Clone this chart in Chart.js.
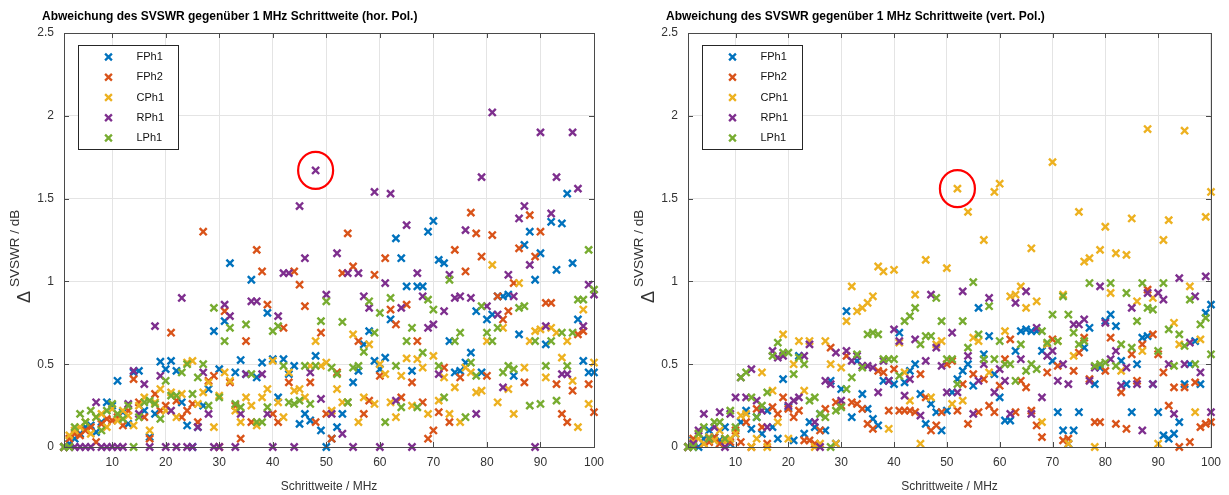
<!DOCTYPE html>
<html>
<head>
<meta charset="utf-8">
<title>SVSWR Abweichung</title>
<script src="https://cdn.jsdelivr.net/npm/chart.js@4.4.1/dist/chart.umd.min.js"></script>
<style>
  html, body { margin: 0; padding: 0; background: #fff; }
  .panel { position: absolute; top: 0; }
  #left { left: 0; }
  #right { left: 614px; }
</style>
</head>
<body>
<div class="panel" id="left"><canvas id="chartH" width="614" height="495"></canvas></div>
<div class="panel" id="right"><canvas id="chartV" width="615" height="495"></canvas></div>
<script>
// step widths 1..100 MHz
const steps = Array.from({ length: 100 }, (_, i) => i + 1);
const seriesNames = ["FPh1", "FPh2", "CPh1", "RPh1", "LPh1"];
const seriesColors = ["#0072BD", "#D95319", "#EDB120", "#7E2F8E", "#77AC30"];
const xTickValues = [10, 20, 30, 40, 50, 60, 70, 80, 90, 100];
const yTickValues = [0, 0.5, 1, 1.5, 2, 2.5];

// horizontal polarisation
const horFPh1 = [0,0.02,0.05,0.08,0.12,0.13,0.09,0.15,0.27,0.25, 0.40,0.21,0.14,0.45,0.46,0.22,0.06,0.20,0.515,0.47, 0.52,0.46,0.27,0.13,0,0.12,0.25,0.35,0.70,0.47, 0.76,1.11,0.45,0.525,0.44,1.01,0.42,0.51,0.81,0.53, 0.30,0.53,0.44,0.49,0.14,0.20,0.16,0.55,0.10,0, 0.05,0.12,0.20,0.27,0.39,0.46,0.62,0.70,0.52,0.47, 0.54,0.77,1.26,1.14,0.97,0.46,0.97,0.97,1.30,1.365, 1.13,1.11,0.64,0.45,0.46,0.51,0.57,0.82,0.45,0.77, 0.80,0.91,0.91,0.92,0.43,0.68,1.22,1.30,1.01,1.17, 0.62,1.36,1.07,1.35,1.53,1.11,0.77,0.52,0.45,0.45];
const horFPh2 = [0,0.05,0.08,0.07,0.10,0.12,0.03,0.14,0.17,0.16, 0.18,0.13,0.22,0.41,0.27,0.18,0.05,0.32,0.22,0.25, 0.69,0.28,0.18,0.22,0.26,0.15,1.30,0.40,0.43,0, 0.82,0.39,0.25,0.05,0.64,0.15,1.19,1.06,0.86,0.20, 0.15,0.72,0.39,1.06,0.98,0.85,0.39,0.15,0.69,0.20, 0.05,0.45,1.05,1.29,1.09,0.64,0.20,0.28,1.04,0.43, 1.14,0.83,0.74,0.30,0.86,0.39,0.64,0.27,0.05,0.10, 0.21,0.48,0.15,1.19,0.42,1.06,1.415,1.29,1.15,0.43, 1.28,0.91,0.77,0.82,0.99,1.20,0.39,1.40,1.15,1.30, 0.87,0.87,0.38,0.20,0.15,0.34,0.68,0.70,0.38,0.21];
const horCPh1 = [0,0.07,0.10,0.12,0.15,0.08,0.18,0.20,0.12,0.23, 0.16,0.22,0.19,0.13,0.25,0.30,0.10,0.27,0.35,0.22, 0.33,0.18,0.32,0.51,0.52,0.26,0.33,0.39,0.12,0.31, 0.45,0.40,0.22,0.15,0.30,0.25,0.13,0.30,0.35,0.52, 0.27,0.18,0.45,0.34,0.35,0.30,0.49,0.64,0.49,0.51, 0.22,0.35,0.27,0.27,0.68,0.15,0.30,0.62,0.26,0.50, 0.44,0.27,0.18,0.43,0.535,0.25,0.53,0.48,0.20,0.55, 0.28,0.42,0.20,0.36,0.15,0.48,0.45,0.33,0.34,0.64, 1.10,0.27,0.72,0.35,0.20,0.99,0.48,0.64,0.70,0.71, 0.42,0.72,0.69,0.54,0.64,0.40,0.12,0.83,0.26,0.51];
const horRPh1 = [0,0,0,0,0,0,0.27,0,0,0, 0,0,0.26,0.46,0.20,0.38,0,0.73,0.43,0, 0.22,0,0.90,0,0,0.12,0.45,0.20,0,0, 0.86,0.79,0,0.20,0.44,0.88,0.88,0.44,0.20,0, 0.79,1.05,1.05,0,1.455,1.14,0.45,1.67,0.29,0.92, 0.20,1.17,0.08,1.05,0,1.05,0.91,0.84,1.54,0, 0.99,1.53,0.28,0.84,1.34,0,1.05,0.91,0.72,0.74, 0.44,0.82,1.04,0.90,0.91,1.31,0.90,0.20,1.63,0.85, 2.02,0.80,0.36,1.04,0.91,1.38,1.455,1.10,0,1.90, 0.73,1.41,1.63,0.44,0.44,1.90,1.56,0.73,0.98,0.92];
const horLPh1 = [0,0,0.12,0.20,0.15,0.22,0.18,0.10,0.22,0.26, 0.20,0.17,0.25,0,0.18,0.27,0.28,0.26,0.17,0.40, 0.31,0.31,0.45,0.50,0.32,0.42,0.50,0.25,0.84,0.30, 0.64,0.72,0.26,0.24,0.74,0.44,0.15,0.15,0.24,0.70, 0.73,0.49,0.27,0.26,0.28,0.49,0.26,0.49,0.76,0.88, 0.48,0.44,0.755,0.27,0.48,0.49,0.575,0.88,0.69,0.81, 0.15,0.90,0.49,0.24,0.64,0.72,0.24,0.57,0.89,0.83, 0.49,0.30,1.01,0.64,0.69,0.18,0.51,0.43,0.85,0.69, 0.64,0.72,0.45,0.49,0.47,0.84,0.85,0.25,0.64,0.26, 0.49,0.64,0.28,0.69,0.49,0.69,0.89,0.89,1.19,0.95];

// vertical polarisation
const vertFPh1 = [0,0.04,0,0.05,0.10,0.06,0.04,0.12,0.02,0.08, 0.15,0.22,0.11,0.18,0.08,0.22,0.12,0.05,0.41,0.24, 0.04,0.55,0.08,0.15,0.12,0.20,0.10,0.40,0.02,0.35, 0.82,0.18,0.52,0.32,0.23,0.17,0.13,0.40,0.40,0.38, 0.69,0.39,0.46,0.50,0.32,0.14,0.26,0.21,0.10,0.22, 0.33,0.41,0.46,0.50,0.37,0.84,0.56,0.67,0.44,0.30, 0.16,0.16,0.58,0.70,0.71,0.70,0.70,0.58,0.62,0.52, 0.21,0.10,0.02,0.10,0.21,0.60,0.72,0.38,0.48,0.76, 0.80,0.73,0.52,0.38,0.21,0.50,0.66,0.67,0.38,0.21, 0.07,0.05,0.08,0.15,0.38,0.50,0.64,0.38,0.81,0.86];
const vertFPh2 = [0,0.05,0.08,0.02,0.03,0.06,0.02,0.05,0.03,0.10, 0.03,0.15,0,0.23,0.12,0.02,0.24,0.20,0.30,0.23, 0.18,0.22,0.04,0.04,0.02,0.10,0.23,0.60,0.27,0.25, 0.55,0.27,0.26,0.23,0.14,0.11,0.46,0.45,0.22,0.47, 0.22,0.22,0.22,0.21,0.44,0.30,0.10,0.13,0.21,0.50, 0.52,0.22,0.38,0.14,0.44,0.21,0.41,0.25,0.21,0.37, 0.53,0.65,0.21,0.40,0.36,0.22,0.13,0.06,0.45,0.65, 0.49,0.04,0.05,0.46,0.57,0.66,0.41,0.15,0.15,0.46, 0.66,0.14,0.33,0.11,0.56,0.40,0.62,0.95,0.68,0.56, 0.45,0.25,0.36,0,0.36,0.03,0.39,0.12,0.14,0.15];
const vertCPh1 = [0,0.03,0.05,0.02,0.06,0.04,0.10,0.03,0.05,0.08, 0.19,0.20,0,0.05,0.45,0,0.34,0.15,0.68,0.05, 0.50,0.64,0.34,0.64,0,0.02,0.64,0.50,0.02,0.48, 0.76,0.97,0.82,0.84,0.87,0.91,1.09,1.06,0.11,1.07, 0.63,0.45,0.28,0.92,0.02,1.13,0.30,0.62,0.64,1.08, 0.26,1.56,0.28,1.42,0.66,0.64,1.25,0.45,1.54,1.59, 0.70,0.91,0.92,0.97,0.84,1.20,0.88,0.15,0.62,1.72, 0.64,0.92,0.02,0.55,1.42,1.12,1.14,0,1.19,1.33, 0.93,1.17,0.46,1.16,1.38,0.88,0.58,1.92,0.90,0.02, 1.25,1.37,0.75,0.62,1.91,0.97,0.21,0.65,1.39,1.54];
const vertRPh1 = [0,0.02,0.10,0.20,0.05,0.12,0.21,0,0.20,0.30, 0.42,0.30,0.47,0.28,0.22,0.12,0.58,0.54,0.55,0.25, 0.28,0.30,0.55,0.62,0.15,0,0.40,0.38,0.57,0.28, 0.58,0.52,0.55,0.49,0.49,0.48,0.33,0.52,0.40,0.71, 0.64,0.31,0.41,0.65,0.19,0.52,0.92,0.60,0.49,0.33, 0.69,0.33,0.94,0.55,0.20,0.40,0.50,0.90,0.33,0.47, 0.40,0.20,0.87,0.53,0.94,0.20,0.72,0.30,0.55,0.58, 0.40,0.50,0.38,0.74,0.74,0.77,0.40,0.48,0.97,0.75, 0.53,0.58,0.37,0.48,0.84,0.38,0.10,0.93,0.38,0.93, 0.89,0.50,0.20,1.02,0.50,0.63,0.91,0.45,1.03,0.21];
const vertLPh1 = [0,0,0.08,0.12,0.05,0.15,0.15,0.05,0.22,0.12, 0.42,0.45,0.30,0.18,0.25,0.33,0.55,0.63,0.57,0.57, 0.44,0.54,0.50,0.28,0.30,0.20,0.18,0,0.22,0.24, 0.35,0.42,0.56,0.48,0.68,0.69,0.68,0.53,0.53,0.53, 0.43,0.76,0.79,0.84,0.62,0.67,0.67,0.90,0.76,0.53, 0.53,0.38,0.76,0.60,0.995,0.68,0.53,0.85,0.53,0.64, 0.50,0.50,0.40,0.62,0.46,0.50,0.47,0.70,0.63,0.80, 0.64,0.91,0.80,0.69,0.62,0.64,0.99,0.49,0.50,0.51, 0.99,0.49,0.62,0.93,0.60,0.76,0.99,0.84,0.83,0.58, 0.99,0.71,0.49,0.68,0.61,0.89,0.50,0.74,0.78,0.56];

// highlighted outliers (red ring)
const markHor = [48, 1.67];
const markVert = [52, 1.56];

const FONT = '"Liberation Sans", Arial, Helvetica, sans-serif';
Chart.defaults.font.family = FONT;
Chart.defaults.font.size = 12;
Chart.defaults.color = "#333";

// draws the MATLAB style frame, legend, titles and the red ring
const matlabLook = {
    id: "matlabLook",
    afterDatasetsDraw(chart, args, opts) {
        const { ctx, chartArea: a, scales: { x, y } } = chart;
        ctx.save();

        // axes box + inward ticks
        ctx.strokeStyle = "#4a4a4a";
        ctx.lineWidth = 1;
        ctx.strokeRect(Math.round(a.left) + 0.5, Math.round(a.top) + 0.5,
            Math.round(a.right - a.left), Math.round(a.bottom - a.top));
        ctx.beginPath();
        xTickValues.forEach(v => {
            const px = Math.round(x.getPixelForValue(v)) + 0.5;
            ctx.moveTo(px, a.bottom); ctx.lineTo(px, a.bottom - 5);
            ctx.moveTo(px, a.top); ctx.lineTo(px, a.top + 5);
        });
        yTickValues.forEach(v => {
            const py = Math.round(y.getPixelForValue(v)) + 0.5;
            ctx.moveTo(a.left, py); ctx.lineTo(a.left + 5, py);
            ctx.moveTo(a.right, py); ctx.lineTo(a.right - 5, py);
        });
        ctx.stroke();

        // legend box
        const bx = Math.round(a.left) + 14.5, by = Math.round(a.top) + 12.5;
        ctx.fillStyle = "#fff";
        ctx.fillRect(bx, by, 100, 104);
        ctx.strokeStyle = "#262626";
        ctx.strokeRect(bx, by, 100, 104);
        ctx.font = "11px " + FONT;
        ctx.textBaseline = "middle";
        ctx.textAlign = "left";
        chart.data.datasets.forEach((ds, i) => {
            const cy = by + 11.5 + i * 20.25;
            const cx = bx + 30;
            ctx.strokeStyle = ds.borderColor;
            ctx.lineWidth = 2.3;
            ctx.beginPath();
            ctx.moveTo(cx - 3.4, cy - 3.4); ctx.lineTo(cx + 3.4, cy + 3.4);
            ctx.moveTo(cx + 3.4, cy - 3.4); ctx.lineTo(cx - 3.4, cy + 3.4);
            ctx.stroke();
            ctx.fillStyle = "#111";
            ctx.fillText(ds.label, bx + 58, cy);
        });

        // red ring round the outlier
        const mx = x.getPixelForValue(opts.mark[0]);
        const my = y.getPixelForValue(opts.mark[1]);
        ctx.strokeStyle = "#ff0000";
        ctx.lineWidth = 2.2;
        ctx.beginPath();
        ctx.ellipse(mx, my, 17.5, 18.5, 0, 0, Math.PI * 2);
        ctx.stroke();

        // title
        ctx.fillStyle = "#000";
        ctx.font = "bold 12px " + FONT;
        ctx.fillText(opts.title, a.left - 22, 17);

        // y axis title: big delta + smaller text
        ctx.translate(a.left - 39, 297);
        ctx.rotate(-Math.PI / 2);
        ctx.fillStyle = "#333";
        ctx.textAlign = "center";
        ctx.font = "18px " + FONT;
        ctx.fillText("\u0394", 0, 0);
        ctx.textAlign = "left";
        ctx.font = "13.5px " + FONT;
        ctx.fillText("SVSWR / dB", 10, -10);

        ctx.restore();
    }
};

function makeChart(canvasId, values, title, mark, yAxisWidth, padRight) {
    const datasets = values.map((vals, i) => ({
        label: seriesNames[i],
        data: vals.map((v, k) => ({ x: steps[k], y: v })),
        borderColor: seriesColors[i],
        backgroundColor: seriesColors[i],
        pointStyle: "crossRot",
        pointRadius: 5,
        pointBorderWidth: 2.4,
        order: values.length - i,   // LPh1 on top, like MATLAB
        clip: false
    }));

    return new Chart(document.getElementById(canvasId), {
        type: "scatter",
        data: { datasets },
        options: {
            responsive: false,
            animation: false,
            layout: { padding: { left: 0, right: padRight, top: 33, bottom: 0 } },
            plugins: {
                legend: { display: false },
                tooltip: { enabled: false },
                matlabLook: { title, mark }
            },
            scales: {
                x: {
                    type: "linear",
                    min: 1,
                    max: 100,
                    afterBuildTicks: axis => { axis.ticks = xTickValues.map(v => ({ value: v })); },
                    afterFit: axis => { axis.height = 48; },
                    border: { display: false },
                    grid: { color: "#e4e4e4", drawTicks: false },
                    ticks: { padding: 8, color: "#333", maxRotation: 0 },
                    title: {
                        display: true,
                        text: "Schrittweite / MHz",
                        color: "#333",
                        font: { size: 12 },
                        padding: { top: 0, bottom: 1 }
                    }
                },
                y: {
                    min: 0,
                    max: 2.5,
                    afterBuildTicks: axis => { axis.ticks = yTickValues.map(v => ({ value: v })); },
                    afterFit: axis => { axis.width = yAxisWidth; },
                    border: { display: false },
                    grid: { color: "#e4e4e4", drawTicks: false },
                    ticks: { padding: 10, color: "#333", callback: v => String(v) }
                }
            }
        },
        plugins: [matlabLook]
    });
}

makeChart("chartH", [horFPh1, horFPh2, horCPh1, horRPh1, horLPh1],
    "Abweichung des SVSWR gegenüber 1 MHz Schrittweite (hor. Pol.)", markHor, 64, 20);
makeChart("chartV", [vertFPh1, vertFPh2, vertCPh1, vertRPh1, vertLPh1],
    "Abweichung des SVSWR gegenüber 1 MHz Schrittweite (vert. Pol.)", markVert, 74, 10);
</script>
</body>
</html>
